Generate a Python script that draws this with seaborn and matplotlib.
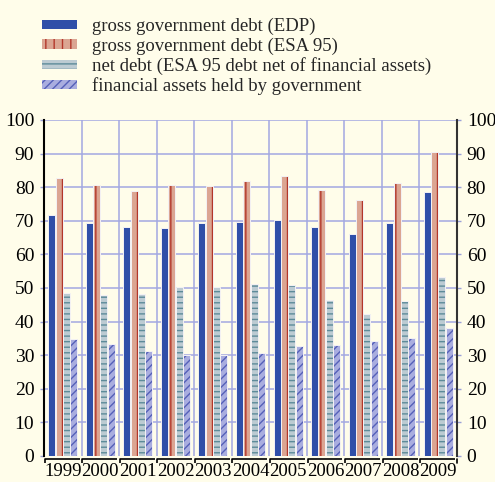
import matplotlib
matplotlib.use("Agg")
import matplotlib.pyplot as plt
from matplotlib.patches import Patch
from matplotlib.ticker import MultipleLocator
import matplotlib.transforms as mtransforms
import seaborn as sns
import pandas as pd
import numpy as np

years = ["1999", "2000", "2001", "2002", "2003", "2004", "2005", "2006", "2007", "2008", "2009"]
edp = [71.7, 69.2, 68.2, 68.0, 69.2, 69.5, 70.1, 68.3, 66.0, 69.3, 78.7]
esa = [82.7, 80.8, 79.0, 80.6, 80.4, 81.9, 83.2, 79.3, 76.1, 81.3, 90.5]
net = [48.5, 47.9, 48.1, 50.4, 50.4, 51.2, 50.9, 46.5, 42.2, 46.2, 53.3]
assets = [34.7, 33.2, 31.3, 30.2, 30.1, 30.7, 32.6, 32.9, 34.1, 35.1, 38.1]
series_names = ["gross government debt (EDP)", "gross government debt (ESA 95)",
                "net debt (ESA 95 debt net of financial assets)", "financial assets held by government"]

rows = []
for name, vals in zip(series_names, [edp, esa, net, assets]):
    for y, v in zip(years, vals):
        rows.append({"year": y, "series": name, "value": v})
df = pd.DataFrame(rows)

bg = "#fffdea"
face = ["#2f4fa8", "#dba592", "#bccbd2", "#a9addf"]
hatch_col = ["#2f4fa8", "#b3372a", "#5d8b99", "#5560b8"]
hatches = [None, "||", "---", "////"]

sns.set_theme(style="white")
plt.rcParams["font.family"] = ["Liberation Serif", "DejaVu Serif"]
plt.rcParams["hatch.linewidth"] = 1.0

fig = plt.figure(figsize=(4.95, 4.82), dpi=100, facecolor=bg)
ax = fig.add_axes([44/495, 1-456/482, (457-44)/495, (456-120)/482])
ax.set_facecolor(bg)

sns.barplot(data=df, x="year", y="value", hue="series", hue_order=series_names,
            palette=face, width=0.78, gap=0.04, ax=ax, legend=False, saturation=1,
            edgecolor="#f4f2f4", linewidth=0.7)

n = len(years)
for i, p in enumerate(ax.patches[:4*n]):
    s = i // n
    if hatches[s]:
        p.set_hatch(hatches[s])
        p._hatch_color = matplotlib.colors.to_rgba(hatch_col[s])
    p.set_zorder(3)

ax.set_ylim(0, 100)
ax.set_xlim(-0.5, n-0.5)
ax.yaxis.set_major_locator(MultipleLocator(10))
ax.set_xlabel("")
ax.set_ylabel("")
gridc = "#a3a8e2"
ax.grid(False)
for yv in range(10, 101, 10):
    ax.axhline(yv, color=gridc, lw=1.1, zorder=1)
for xv in np.arange(0.5, n-0.5, 1):
    ax.axvline(xv, color=gridc, lw=1.1, zorder=1)

ax.spines["top"].set_visible(False)
ax.spines["bottom"].set_visible(False)
ax.spines["left"].set_color("black")
ax.spines["left"].set_linewidth(1.5)
ax.spines["right"].set_color("#333333")
ax.spines["right"].set_linewidth(1.5)

ax.tick_params(axis="y", which="both", left=True, right=True, labelleft=True, labelright=True,
               direction="out", length=3, width=1, color="#9aa0d8", labelsize=14, pad=4,
               labelcolor="black")
ax.tick_params(axis="x", which="major", length=0, labelsize=13.5, pad=5, labelcolor="black")

# category brackets under the axis
trans = mtransforms.blended_transform_factory(ax.transData, ax.transAxes)
for k in range(n):
    x0, x1 = k - 0.5 + 0.02, k + 0.45
    ax.plot([x0, x0, x1], [-0.022, -0.009, -0.009], color="black", lw=1.2,
            transform=trans, clip_on=False, solid_capstyle="butt")
ax.plot([n - 0.5, n - 0.5], [-0.022, -0.009], color="black", lw=1.2,
        transform=trans, clip_on=False)

handles = []
for s in range(4):
    h = Patch(facecolor=face[s], edgecolor="white", hatch=hatches[s], linewidth=0)
    h._hatch_color = matplotlib.colors.to_rgba(hatch_col[s])
    handles.append(h)
fig.legend(handles, series_names, loc="upper left", bbox_to_anchor=(0.058, 0.99),
           frameon=False, fontsize=13.5, handlelength=1.85, handleheight=0.4,
           labelspacing=0.12, handletextpad=0.8, borderpad=0.2)

fig.savefig("out.png", dpi=100, facecolor=bg)
